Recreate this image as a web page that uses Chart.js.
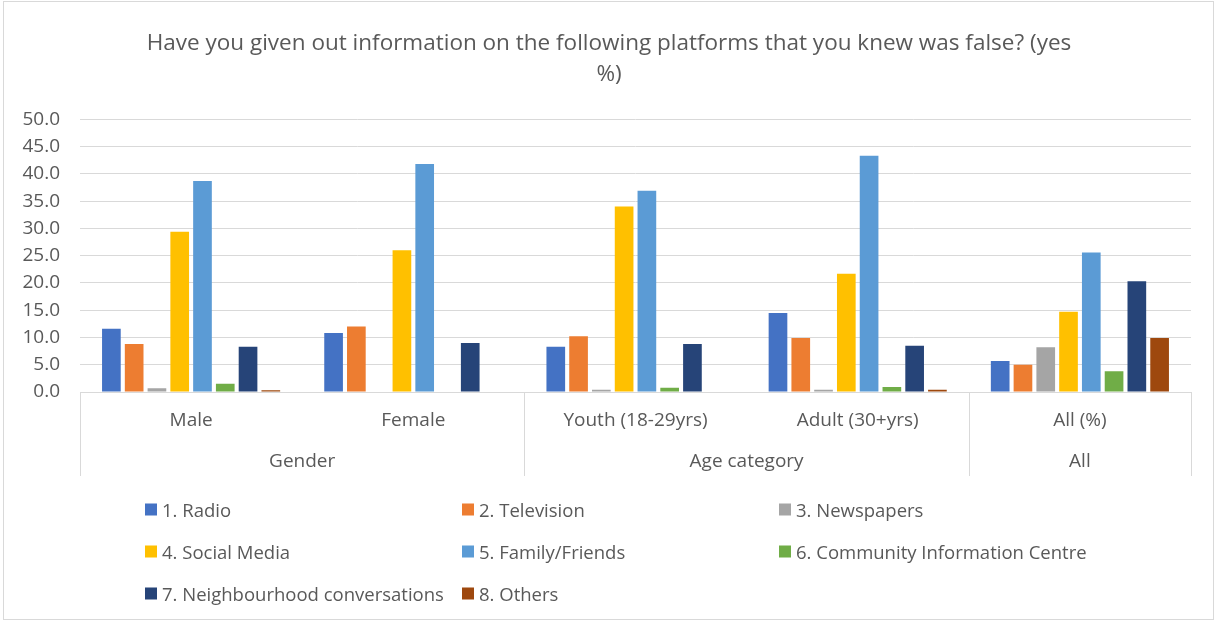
<!DOCTYPE html>
<html>
<head>
<meta charset="utf-8">
<script src="https://cdn.jsdelivr.net/npm/chart.js@4/dist/chart.umd.min.js"></script>
<style>
  html, body { margin: 0; padding: 0; background: #ffffff; }
  #wrap { position: relative; width: 1218px; height: 623px; overflow: hidden; }
  #frame { position: absolute; left: 3px; top: 1px; width: 1211px; height: 619px; border: 1px solid #d9d9d9; box-sizing: border-box; pointer-events: none; }
  #chart { position: absolute; left: 0; top: 0; }
  #legend { position: absolute; left: 0; top: 0; width: 1218px; height: 623px; pointer-events: none;
            font-family: "Open Sans", sans-serif; font-size: 18.5px; color: #595959; }
  .item { position: absolute; display: flex; align-items: center; white-space: nowrap; transform: translateY(-50%); }
  .swatch { width: 12px; height: 12px; margin-right: 5px; }
</style>
</head>
<body>
<div id="wrap">
  <canvas id="chart" width="1218" height="623"></canvas>
  <div id="legend"></div>
  <div id="frame"></div>
</div>
<script>
// Survey groups shown along the x axis
const categories = ['Male', 'Female', 'Youth (18-29yrs)', 'Adult (30+yrs)', 'All (%)'];
const groupNames = ['Gender', 'Age category', 'All'];
const groupSpans = [2, 2, 1];

// Share answering "yes" (%) per platform, one value per category
const radio         = [11.6, 10.8, 8.3, 14.5, 5.7];
const television    = [8.8, 12.0, 10.2, 9.9, 5.0];
const newspapers    = [0.7, 0, 0.4, 0.4, 8.2];
const socialMedia   = [29.4, 26.0, 34.0, 21.7, 14.7];
const familyFriends = [38.7, 41.8, 36.9, 43.3, 25.6];
const communityCtr  = [1.5, 0, 0.8, 0.9, 3.8];
const neighbourhood = [8.3, 9.0, 8.8, 8.5, 20.3];
const others        = [0.3, 0, 0, 0.4, 9.9];

const seriesNames = ['1. Radio', '2. Television', '3. Newspapers', '4. Social Media', '5. Family/Friends',
                     '6. Community Information Centre', '7. Neighbourhood conversations', '8. Others'];
const seriesValues = [radio, television, newspapers, socialMedia, familyFriends, communityCtr, neighbourhood, others];
const seriesColors = ['#4472C4', '#ED7D31', '#A5A5A5', '#FFC000', '#5B9BD5', '#70AD47', '#264478', '#9E480E'];

const yTicks = [0, 5, 10, 15, 20, 25, 30, 35, 40, 45, 50];

const FONT = '"Open Sans", sans-serif';
const TEXT = '#595959';
const LINE = '#d9d9d9';

// Second row of the category axis: group names with separators between groups
const groupAxisPlugin = {
  id: 'groupAxis',
  afterDraw(chart) {
    const { ctx, chartArea } = chart;
    const x = chart.scales.x;
    const step = x.getPixelForValue(1) - x.getPixelForValue(0);
    const top = chartArea.bottom;
    const bottom = x.bottom;
    ctx.save();
    ctx.strokeStyle = LINE;
    ctx.lineWidth = 1;
    ctx.fillStyle = TEXT;
    ctx.font = '19px ' + FONT;
    ctx.textAlign = 'center';
    ctx.textBaseline = 'middle';
    let start = 0;
    const edges = [x.getPixelForValue(0) - step / 2];
    groupNames.forEach((name, i) => {
      const end = start + groupSpans[i] - 1;
      const left = x.getPixelForValue(start) - step / 2;
      const right = x.getPixelForValue(end) + step / 2;
      edges.push(right);
      ctx.fillText(name, (left + right) / 2, top + 70);
      start = end + 1;
    });
    edges.forEach(px => {
      const p = Math.round(px) + 0.5;
      ctx.beginPath();
      ctx.moveTo(p, top);
      ctx.lineTo(p, bottom);
      ctx.stroke();
    });
    ctx.restore();
  }
};

const chart = new Chart(document.getElementById('chart'), {
  type: 'bar',
  data: {
    labels: categories,
    datasets: seriesNames.map((name, i) => ({
      label: name,
      data: seriesValues[i],
      backgroundColor: seriesColors[i],
      borderWidth: 0,
      categoryPercentage: 0.82,
      barPercentage: 0.82
    }))
  },
  options: {
    responsive: false,
    animation: false,
    layout: { padding: { left: 0, right: 0, top: 0, bottom: 147 } },
    plugins: {
      legend: { display: false },
      tooltip: { enabled: false },
      title: {
        display: true,
        text: ['Have you given out information on the following platforms that you knew was false? (yes', '%)'],
        color: TEXT,
        font: { family: FONT, size: 22.5, weight: 'normal', lineHeight: 1.34 },
        padding: { top: 29, bottom: 30 }
      }
    },
    scales: {
      x: {
        grid: { display: false, drawTicks: false },
        border: { display: true, color: LINE, width: 1 },
        ticks: { color: TEXT, font: { family: FONT, size: 19 }, padding: 17, maxRotation: 0 },
        afterFit(scale) { scale.height = 84; }
      },
      y: {
        min: 0,
        max: 50,
        afterBuildTicks(scale) { scale.ticks = yTicks.map(v => ({ value: v })); },
        grid: { color: LINE, lineWidth: 1, drawTicks: false },
        border: { display: false },
        ticks: { color: TEXT, font: { family: FONT, size: 19 }, padding: 20, callback: v => v.toFixed(1) },
        afterFit(scale) { scale.width = 80; }
      },
      // empty right-hand margin so the plot and title sit in the same frame
      yRight: {
        type: 'linear',
        position: 'right',
        grid: { display: false, drawTicks: false },
        border: { display: false },
        ticks: { display: false },
        afterFit(scale) { scale.width = 27; }
      }
    }
  },
  plugins: [groupAxisPlugin]
});

// Legend laid out in three fixed columns below the chart
const legend = document.getElementById('legend');
const colLeft = [145, 462, 779];
const rowMid = [509, 551, 593];
chart.data.datasets.forEach((ds, i) => {
  const item = document.createElement('div');
  item.className = 'item';
  item.style.left = colLeft[i % 3] + 'px';
  item.style.top = rowMid[Math.floor(i / 3)] + 'px';
  const sw = document.createElement('span');
  sw.className = 'swatch';
  sw.style.background = ds.backgroundColor;
  const label = document.createElement('span');
  label.textContent = ds.label;
  item.appendChild(sw);
  item.appendChild(label);
  legend.appendChild(item);
});
</script>
</body>
</html>
